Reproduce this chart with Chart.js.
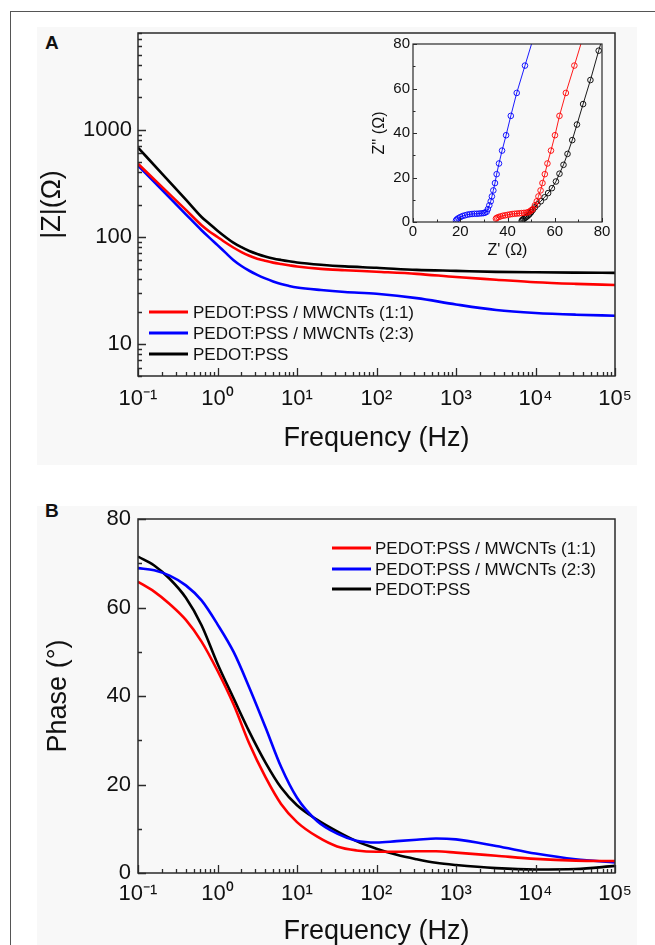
<!DOCTYPE html>
<html><head><meta charset="utf-8">
<script src="https://cdn.jsdelivr.net/npm/chart.js@4.4.1/dist/chart.umd.min.js"></script>
<style>
html,body{margin:0;padding:0;background:#fff;overflow:hidden;width:655px;height:945px;}
#page{position:relative;width:655px;height:945px;overflow:hidden;}
.frame{position:absolute;left:10px;top:11px;width:700px;height:1000px;border-left:1px solid #555;border-top:1px solid #555;}
.bg{position:absolute;background:#f8f8f8;}
.lbl{position:absolute;font:bold 19px "Liberation Sans",Arial,sans-serif;line-height:19px;color:#111;}
canvas{position:absolute;}
</style></head>
<body><div id="page">
<div class="frame"></div>
<div class="bg" style="left:37px;top:27px;width:600px;height:438px"></div>
<div class="bg" style="left:37px;top:506px;width:600px;height:439px"></div>
<div class="lbl" style="left:45px;top:33px">A</div>
<div class="lbl" style="left:45px;top:501px">B</div>
<canvas id="cA" width="655" height="480" style="left:0;top:0"></canvas>
<canvas id="cB" width="655" height="480" style="left:0;top:480px"></canvas>
<canvas id="cI" width="265" height="240" style="left:355px;top:30px"></canvas>
</div>
<script>
// ---------- data ----------
const seriesLabels = ['PEDOT:PSS / MWCNTs (1:1)', 'PEDOT:PSS / MWCNTs (2:3)', 'PEDOT:PSS'];
const seriesColors = ['#ff0000', '#0000ff', '#000000'];

// Panel A: |Z| (ohm) vs frequency (Hz)
const freqA = [0.1, 0.2, 0.4, 0.63, 0.79, 1, 1.26, 1.58, 2, 2.51, 3.16, 3.98, 5.01, 6.31, 7.94, 10,
               20, 40, 100, 320, 1000, 3200, 10000, 32000, 100000];
const zRed   = [480, 292, 178, 128, 112, 99.5, 88.3, 79.3, 71.9, 66.4, 62.4, 59.6, 57.3, 55.6, 54.1, 52.7,
                50.1, 48.7, 47.1, 45, 42, 39.7, 37.6, 36.3, 35.4];
const zBlue  = [462, 274, 162, 115, 98, 83.4, 71, 60.7, 53.3, 48.1, 44, 40.8, 38.2, 36.1, 34.7, 33.6,
                31.8, 30.5, 29.3, 26.7, 23.3, 20.7, 19.4, 18.7, 18.3];
const zBlack = [680, 389, 222, 153, 132, 114, 99.5, 88.1, 79.8, 73.5, 68.9, 65.3, 62.7, 60.7, 59.0, 57.5,
                54.7, 52.8, 51.3, 49, 48, 47, 46.5, 46.2, 46];

// Panel B: phase (deg) vs frequency (Hz)
const freqB = [0.1, 0.16, 0.25, 0.4, 0.63, 1, 1.6, 2.5, 4, 6.3, 10, 18, 32, 56, 100, 180, 320, 560, 1000, 3200, 10000, 32000, 100000];
const phRed   = [65.8, 63.6, 60.8, 57.2, 52.3, 45.7, 38, 29.3, 21.7, 15.6, 11.5, 8.2, 6.0, 5.1, 4.8, 4.8, 4.9, 4.9, 4.6, 3.9, 3.2, 2.8, 2.7];
const phBlue  = [68.9, 68.4, 67.2, 65, 61.6, 56.2, 49.9, 42, 33, 24, 17, 11.7, 8.9, 7.3, 6.9, 7.2, 7.5, 7.8, 7.6, 6.1, 4.4, 3.1, 2.4];
const phBlack = [71.5, 69.5, 66.5, 62.2, 56, 47.3, 39.4, 32, 25, 19.3, 15.3, 12, 9.4, 7.2, 5.5, 4.1, 3.1, 2.3, 1.8, 1.1, 0.8, 0.9, 1.6];

// Inset: Nyquist (Z', Z'') in ohm
const nyqRedRe = [35.1, 35.5, 36.2, 37.0, 38.0, 39.0, 40.0, 41.0, 42.0, 43.0, 44.0, 45.0, 46.0, 47.0, 48.0, 48.8, 49.5, 50.1, 50.7, 51.6, 52.4, 53.1, 54.0, 54.8, 55.8, 56.9, 58.4, 60.1, 62.0, 64.7, 68.3, 72.5];
const nyqRedIm = [1.5, 1.9, 2.2, 2.5, 2.8, 3.0, 3.2, 3.4, 3.6, 3.7, 3.8, 3.9, 4.0, 4.1, 4.2, 4.4, 4.8, 5.3, 5.8, 7.5, 9.3, 11.5, 14.2, 17.5, 21.5, 26.3, 32.1, 39.0, 47.7, 58.0, 70.3, 85.0];
const nyqBlueRe = [18.2, 18.6, 19.2, 20.0, 21.0, 22.0, 23.0, 24.0, 25.0, 26.0, 27.0, 28.0, 29.0, 29.8, 30.5, 31.2, 31.7, 32.3, 32.9, 33.4, 34.0, 34.7, 35.4, 36.4, 37.7, 39.4, 41.4, 43.9, 47.4, 51.6];
const nyqBlueIm = [0.7, 1.2, 1.7, 2.2, 2.7, 3.0, 3.3, 3.5, 3.6, 3.7, 3.7, 3.8, 3.9, 4.0, 4.2, 4.6, 5.8, 7.5, 9.3, 11.5, 14.2, 17.5, 21.5, 26.3, 32.1, 39.0, 47.7, 58.0, 70.3, 85.0];
const nyqBlackRe = [46.0, 46.3, 46.7, 47.2, 47.8, 48.4, 49.0, 49.5, 50.0, 50.7, 51.6, 52.7, 54.1, 55.7, 57.2, 58.8, 60.5, 62.0, 63.7, 65.4, 67.4, 69.4, 72.0, 75.1, 78.6, 83.0];
const nyqBlackIm = [0.5, 0.9, 1.3, 1.7, 2.1, 2.6, 3.2, 3.8, 4.4, 5.4, 6.6, 7.9, 9.3, 11.1, 13.0, 15.2, 18.2, 21.7, 25.7, 30.6, 36.8, 43.8, 53.0, 63.8, 77.0, 93.0];

// Tick labels
const freqTicks = [0.1, 1, 10, 100, 1000, 10000, 100000];
const zTicks = [10, 100, 1000];
const phaseTicks = [0, 20, 40, 60, 80];
const nyqTicks = [0, 20, 40, 60, 80];

// ---------- helpers ----------
const FONT = '"Liberation Sans", Arial, Helvetica, sans-serif';
Chart.defaults.font.family = FONT;
Chart.defaults.color = '#111';
const SUP = {'-':'\u207B','0':'\u2070','1':'\u00B9','2':'\u00B2','3':'\u00B3','4':'\u2074','5':'\u2075','6':'\u2076','7':'\u2077','8':'\u2078','9':'\u2079'};
function powLabel(v) {
  const e = Math.round(Math.log10(v));
  return '10' + String(e).split('').map(c => SUP[c]).join('');
}
const pts = (xs, ys) => xs.map((x, i) => ({x: x, y: ys[i]}));

// style for frames and inward tick marks, keyed by canvas id
const FRAME_STYLE = {
  cA: {xType: 'log', yType: 'log', major: 8, minor: 4, frameWidth: 1.5, tickWidth: 1.3},
  cB: {xType: 'log', yType: 'lin', minorStep: 10, majorStep: 20, major: 8, minor: 4, frameWidth: 1.5, tickWidth: 1.3},
  cI: {xType: 'lin', yType: 'lin', minorStep: 10, majorStep: 20, major: 4, minor: 2.5, frameWidth: 1.2, tickWidth: 1}
};
const LEGEND_POS = {
  cA: {x0: 149, x1: 188, tx: 193, rows: [312, 333, 354]},
  cB: {x0: 332, x1: 371, tx: 375, rows: [68, 89, 109]}
};

function tickMarks(scale, type, st) {
  const out = [];
  if (type === 'log') {
    const e0 = Math.floor(Math.log10(scale.min)), e1 = Math.ceil(Math.log10(scale.max));
    for (let e = e0; e <= e1; e++) for (let k = 1; k <= 9; k++) {
      const v = k * Math.pow(10, e);
      if (v >= scale.min * 0.9999 && v <= scale.max * 1.0001) out.push([v, k === 1]);
    }
  } else {
    for (let v = scale.min; v <= scale.max + 1e-9; v += st.minorStep) {
      out.push([v, Math.abs(v % st.majorStep) < 1e-9]);
    }
  }
  return out;
}

const framePlugin = {
  id: 'frameTicks',
  afterDraw(chart) {
    const st = FRAME_STYLE[chart.canvas.id];
    if (!st) return;
    const ctx = chart.ctx, a = chart.chartArea;
    ctx.save();
    ctx.strokeStyle = '#2a2a2a';
    ctx.lineWidth = st.frameWidth;
    ctx.strokeRect(a.left, a.top, a.right - a.left, a.bottom - a.top);
    ctx.lineWidth = st.tickWidth;
    ctx.beginPath();
    const xs = chart.scales.x, ys = chart.scales.y;
    tickMarks(xs, st.xType, st).forEach(m => {
      const p = Math.round(xs.getPixelForValue(m[0])) + 0.5;
      ctx.moveTo(p, a.bottom);
      ctx.lineTo(p, a.bottom - (m[1] ? st.major : st.minor));
    });
    tickMarks(ys, st.yType, st).forEach(m => {
      const p = Math.round(ys.getPixelForValue(m[0])) + 0.5;
      ctx.moveTo(a.left, p);
      ctx.lineTo(a.left + (m[1] ? st.major : st.minor), p);
    });
    ctx.stroke();
    ctx.restore();
  }
};

const legendPlugin = {
  id: 'inLegend',
  afterDraw(chart) {
    const o = LEGEND_POS[chart.canvas.id];
    if (!o) return;
    const ctx = chart.ctx;
    ctx.save();
    ctx.font = '17px ' + FONT;
    ctx.textBaseline = 'middle';
    ctx.textAlign = 'left';
    chart.data.datasets.forEach((ds, i) => {
      const y = o.rows[i];
      ctx.strokeStyle = ds.borderColor; ctx.lineWidth = 3;
      ctx.beginPath(); ctx.moveTo(o.x0, y); ctx.lineTo(o.x1, y); ctx.stroke();
      ctx.fillStyle = '#111';
      ctx.fillText(ds.label, o.tx, y + 1);
    });
    ctx.restore();
  }
};

function lineDS(label, color, data) {
  return {label, data, borderColor: color, backgroundColor: color, borderWidth: 2.6,
          pointRadius: 0, cubicInterpolationMode: 'monotone', fill: false};
}
const noGrid = {display: false, drawTicks: false};
const noBorder = {display: false};

// ---------- Panel A ----------
new Chart(document.getElementById('cA'), {
  type: 'line',
  data: {datasets: [
    lineDS(seriesLabels[0], seriesColors[0], pts(freqA, zRed)),
    lineDS(seriesLabels[1], seriesColors[1], pts(freqA, zBlue)),
    lineDS(seriesLabels[2], seriesColors[2], pts(freqA, zBlack))
  ]},
  options: {
    responsive: false, animation: false, devicePixelRatio: 1,
    layout: {padding: {left: 0, right: 40, top: 33, bottom: 0}},
    plugins: {legend: {display: false}, tooltip: {enabled: false}},
    scales: {
      x: {type: 'logarithmic', min: 0.1, max: 100000,
          grid: noGrid, border: noBorder,
          afterBuildTicks: s => { s.ticks = freqTicks.map(v => ({value: v})); },
          afterFit: s => { s.height = 104; },
          ticks: {autoSkip: false, maxRotation: 0, padding: 10, font: {size: 22}, callback: v => powLabel(v)},
          title: {display: true, text: 'Frequency (Hz)', font: {size: 27}, padding: {top: 0, bottom: 25}}},
      y: {type: 'logarithmic', min: 5, max: 8000,
          grid: noGrid, border: noBorder,
          afterBuildTicks: s => { s.ticks = zTicks.map(v => ({value: v})); },
          afterFit: s => { s.width = 138; },
          ticks: {autoSkip: false, padding: 6, font: {size: 22}, callback: v => String(v)},
          title: {display: true, text: '|Z|(\u03A9)', font: {size: 27}, padding: {top: 36, bottom: 0}}}
    }
  },
  plugins: [framePlugin, legendPlugin]
});

// ---------- Panel B ----------
new Chart(document.getElementById('cB'), {
  type: 'line',
  data: {datasets: [
    lineDS(seriesLabels[0], seriesColors[0], pts(freqB, phRed)),
    lineDS(seriesLabels[1], seriesColors[1], pts(freqB, phBlue)),
    lineDS(seriesLabels[2], seriesColors[2], pts(freqB, phBlack))
  ]},
  options: {
    responsive: false, animation: false, devicePixelRatio: 1,
    layout: {padding: {left: 0, right: 40, top: 39, bottom: 0}},
    plugins: {legend: {display: false}, tooltip: {enabled: false}},
    scales: {
      x: {type: 'logarithmic', min: 0.1, max: 100000,
          grid: noGrid, border: noBorder,
          afterBuildTicks: s => { s.ticks = freqTicks.map(v => ({value: v})); },
          afterFit: s => { s.height = 87; },
          ticks: {autoSkip: false, maxRotation: 0, padding: 8, font: {size: 22}, callback: v => powLabel(v)},
          title: {display: true, text: 'Frequency (Hz)', font: {size: 27}, padding: {top: 0, bottom: 12}}},
      y: {type: 'linear', min: 0, max: 80,
          grid: noGrid, border: noBorder,
          afterBuildTicks: s => { s.ticks = phaseTicks.map(v => ({value: v})); },
          afterFit: s => { s.width = 138; },
          ticks: {autoSkip: false, padding: 7, font: {size: 22}, callback: v => String(v)},
          title: {display: true, text: 'Phase (\u00B0)', font: {size: 27}, padding: {top: 42, bottom: 0}}}
    }
  },
  plugins: [framePlugin, legendPlugin]
});

// ---------- Inset ----------
function nyqDS(label, color, xs, ys) {
  return {label, data: pts(xs, ys), showLine: true, borderColor: color, backgroundColor: 'rgba(0,0,0,0)',
          borderWidth: 0.9, pointRadius: 2.8, pointBorderWidth: 0.9, pointBorderColor: color,
          pointBackgroundColor: 'rgba(0,0,0,0)', pointStyle: 'circle', tension: 0};
}
new Chart(document.getElementById('cI'), {
  type: 'scatter',
  data: {datasets: [
    nyqDS(seriesLabels[1], seriesColors[1], nyqBlueRe, nyqBlueIm),
    nyqDS(seriesLabels[0], seriesColors[0], nyqRedRe, nyqRedIm),
    nyqDS(seriesLabels[2], seriesColors[2], nyqBlackRe, nyqBlackIm)
  ]},
  options: {
    responsive: false, animation: false, devicePixelRatio: 1,
    layout: {padding: {left: 0, right: 18, top: 14, bottom: 0}},
    plugins: {legend: {display: false}, tooltip: {enabled: false}},
    scales: {
      x: {type: 'linear', min: 0, max: 80,
          grid: noGrid, border: noBorder,
          afterBuildTicks: s => { s.ticks = nyqTicks.map(v => ({value: v})); },
          afterFit: s => { s.height = 48; },
          ticks: {autoSkip: false, maxRotation: 0, padding: 1, font: {size: 15}, callback: v => String(v)},
          title: {display: true, text: "Z' (\u03A9)", font: {size: 16}, padding: {top: 0, bottom: 10}}},
      y: {type: 'linear', min: 0, max: 80,
          grid: noGrid, border: noBorder,
          afterBuildTicks: s => { s.ticks = nyqTicks.map(v => ({value: v})); },
          afterFit: s => { s.width = 58; },
          ticks: {autoSkip: false, padding: 3, font: {size: 15}, callback: v => String(v)},
          title: {display: true, text: "Z'' (\u03A9)", font: {size: 16}, padding: {top: 15, bottom: 0}}}
    }
  },
  plugins: [framePlugin]
});
</script>
</body></html>
